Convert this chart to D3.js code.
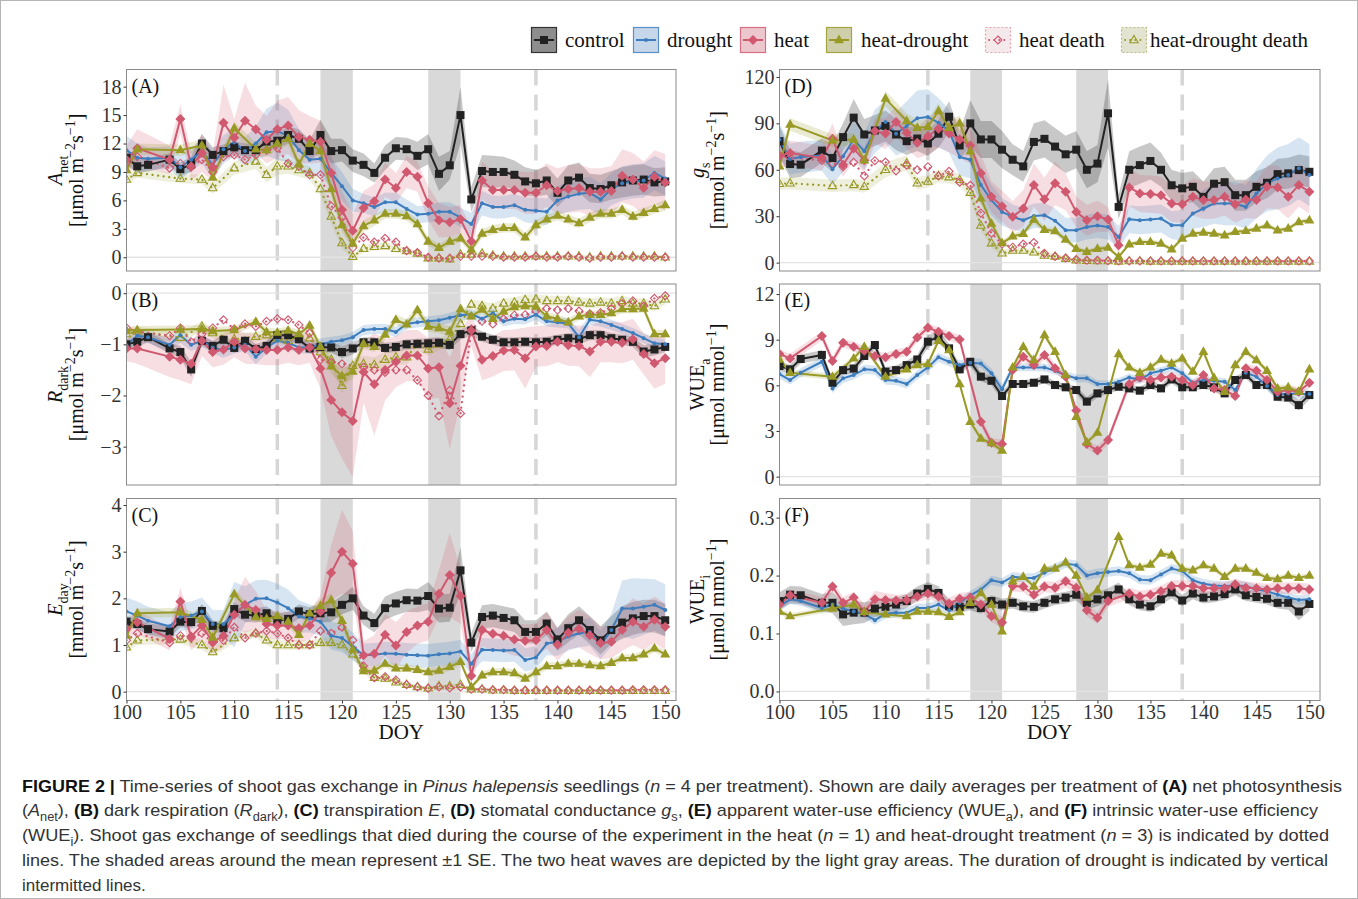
<!DOCTYPE html>
<html>
<head>
<meta charset="utf-8">
<script src="https://cdn.jsdelivr.net/npm/d3@7"></script>
<style>
  body { margin: 0; background: #fff; }
  svg text { font-family: "Liberation Serif", "Times New Roman", serif; }
  .caption text { font-family: "Liberation Sans", Arial, sans-serif; }
</style>
</head>
<body>
<svg id="chart" width="1358" height="899"></svg>
<script>
// days 100..150, null = no measurement that day
const days = d3.range(100, 151);
const heatWaves = [[118, 121], [128, 131]];
const droughtDays = [114, 138];

// ---- (A) net photosynthesis
const A_control = [10.5,9.6,9.75,null,10.3,9.3,9.8,12.0,10.8,11.2, 11.6,11.3,11.3,12.2,12.3,12.9,12.5,11.2,12.9,11.2, 11.3,10.2,9.75,8.9,10.5,11.5,11.4,10.7,11.4,8.8, 9.7,15.0,6.1,9.1,9.0,9.0,8.7,8.0,7.8,8.1, 6.8,8.1,8.4,7.3,7.2,7.6,7.9,8.1,8.2,7.9,8.0];
const A_control_se = [0.8,0.7,0.7,null,0.7,0.7,0.8,1.0,0.8,0.7, 0.7,0.7,0.7,0.8,0.8,0.9,1.0,1.2,1.6,1.3, 1.2,1.2,1.2,1.0,1.3,1.2,1.2,1.5,1.6,1.8, 1.5,3.0,1.3,1.7,1.7,1.6,1.5,1.5,1.4,1.5, 1.5,1.6,1.6,1.5,1.5,1.5,1.6,1.6,1.6,1.5,1.5];
const A_drought = [11.3,10.5,10.4,null,10.5,9.5,10.3,11.2,9.75,11.4, 12.1,11.2,12.0,13.2,13.3,12.8,11.3,10.3,10.4,8.9, 7.5,6.0,5.7,5.3,5.8,5.8,5.1,4.5,4.6,4.8, 4.8,4.2,3.5,5.7,5.3,5.3,5.5,5.0,4.9,4.8, 6.0,6.4,6.7,6.8,6.1,7.2,7.8,8.0,8.1,8.9,8.3];
const A_drought_se = [1.5,1.5,1.2,null,1.2,1.3,1.2,1.3,1.5,1.5, 1.5,1.5,1.8,2.5,3.0,2.8,2.2,1.8,1.8,1.6, 1.5,1.2,1.0,1.0,1.0,1.0,1.0,0.9,0.9,1.0, 1.0,1.0,1.2,1.3,1.2,1.2,1.2,1.3,1.4,1.4, 1.5,1.6,1.7,1.7,1.7,1.7,1.8,1.8,1.8,1.8,1.8];
const A_heat = [10.3,11.5,null,null,10.3,14.6,9.6,11.0,9.5,14.2, 12.6,14.4,13.5,12.4,13.5,13.9,12.7,12.4,12.2,8.9, 5.0,2.8,5.2,5.9,8.2,7.3,9.0,8.5,5.7,3.9, 3.7,4.0,1.7,8.1,7.1,7.1,7.1,6.8,6.8,7.6, 7.0,7.2,7.3,6.9,6.9,7.0,8.6,8.2,7.3,8.5,7.9];
const A_heat_se = [1.5,2.0,null,null,1.5,1.5,1.5,2.0,1.5,4.0, 2.0,4.0,2.5,2.5,3.0,3.0,2.8,2.5,2.2,2.0, 2.0,1.8,1.8,1.8,1.8,1.6,1.7,1.6,1.8,1.8, 1.6,1.5,1.4,2.0,2.0,2.0,2.0,2.2,2.2,2.3, 2.4,2.5,2.5,2.5,2.5,2.6,2.8,2.8,2.8,2.8,3.0];
const A_hd = [9.2,11.4,null,null,null,11.3,null,11.8,8.4,null, 13.6,null,11.4,11.3,12.0,12.5,9.8,12.0,11.2,7.2, 3.4,1.45,3.3,3.9,4.6,4.6,4.35,3.5,1.65,1.0, 1.65,2.0,0.8,2.5,2.9,3.1,3.1,2.1,3.4,4.0, 4.4,4.0,3.6,4.2,4.6,4.6,5.0,4.3,4.7,5.1,5.5];
const A_hd_se = [0.6,0.6,null,null,null,0.6,null,0.6,0.6,null, 0.7,null,0.7,0.7,0.7,0.7,0.6,0.7,0.8,0.8, 0.8,0.6,0.6,0.6,0.5,0.5,0.5,0.5,0.5,0.4, 0.4,0.4,0.4,0.5,0.5,0.5,0.5,0.5,0.5,0.5, 0.5,0.5,0.5,0.5,0.5,0.5,0.5,0.5,0.5,0.5,0.6];
const A_hdeath = [10.0,10.6,null,null,9.4,9.9,9.5,10.3,9.0,10.6, 10.8,10.3,10.8,11.3,11.5,9.9,9.6,8.7,8.7,5.4, 4.2,1.0,2.1,1.6,2.0,1.6,0.7,0.5,0.0,-0.1, -0.1,0.1,0.1,0.1,0.1,0.0,0.0,0.0,0.1,0.0, 0.0,0.1,0.0,-0.1,0.0,0.0,0.1,0.0,0.0,0.0,0.0];
const A_hdd = [8.2,8.9,null,null,null,8.3,null,8.2,7.3,null, 9.4,null,10.1,8.7,9.6,9.6,9.2,8.9,7.2,4.3, 1.5,0.05,0.9,1.1,1.2,0.9,0.65,0.4,-0.1,-0.1, -0.2,0.3,0.3,0.4,0.2,0.1,0.1,0.1,0.1,0.1, 0.1,0.1,0.1,0.0,0.1,0.1,0.1,0.1,0.1,0.1,0.0];
const A_hdd_se = [0.5,0.5,null,null,null,0.5,null,0.5,0.6,null, 0.7,null,0.8,0.8,0.9,0.8,0.7,0.7,0.7,0.8, 0.6,0.3,0.4,0.4,0.4,0.4,0.3,0.3,0.2,0.2, 0.2,0.2,0.2,0.2,0.2,0.2,0.2,0.2,0.2,0.2, 0.2,0.2,0.2,0.2,0.2,0.2,0.2,0.2,0.2,0.2,0.2];

// ---- (B) dark respiration
const B_control = [-1.0,-0.95,-0.86,null,-1.08,-1.15,-1.49,-0.93,-1.03,-0.91, -1.07,-0.93,-1.09,-1.03,-0.82,-0.82,-0.9,-1.08,-1.05,-1.06, -1.15,-1.08,-0.96,-0.96,-1.07,-1.05,-1.0,-0.99,-0.98,-0.97, -1.01,-0.8,-0.73,-0.85,-0.91,-0.96,-0.96,-0.95,-0.96,-0.95, -0.91,-0.88,-0.9,-0.82,-0.82,-0.88,-0.91,-0.95,-1.14,-1.1,-1.05];
const B_control_se = [0.1,0.1,0.1,null,0.1,0.12,0.15,0.1,0.1,0.1, 0.1,0.1,0.1,0.1,0.1,0.1,0.1,0.1,0.1,0.1, 0.12,0.12,0.1,0.1,0.1,0.1,0.1,0.1,0.1,0.1, 0.1,0.1,0.1,0.1,0.1,0.1,0.1,0.1,0.1,0.1, 0.1,0.1,0.1,0.1,0.1,0.1,0.1,0.1,0.12,0.12,0.1];
const B_drought = [-1.02,-0.83,-0.86,null,-1.01,-0.82,-1.01,-0.93,-1.06,-1.11, -1.06,-1.01,-1.24,-1.06,-0.93,-0.97,-1.06,-1.06,-1.0,-0.95, -0.92,-0.86,-0.72,-0.7,-0.7,-0.76,-0.6,-0.57,-0.55,-0.53, -0.48,-0.43,-0.41,-0.5,-0.39,-0.55,-0.5,-0.51,-0.42,-0.55, -0.57,-0.59,-0.86,-0.52,-0.55,-0.62,-0.7,-0.78,-0.88,-0.98,-1.0];
const B_drought_se = [0.12,0.12,0.12,null,0.12,0.15,0.12,0.12,0.12,0.15, 0.12,0.12,0.15,0.12,0.12,0.12,0.12,0.12,0.12,0.1, 0.1,0.1,0.1,0.1,0.1,0.1,0.1,0.1,0.1,0.1, 0.1,0.1,0.1,0.1,0.1,0.1,0.1,0.1,0.1,0.1, 0.1,0.1,0.15,0.1,0.1,0.1,0.1,0.1,0.1,0.1,0.1];
const B_heat = [-1.08,-1.08,null,null,-1.24,-1.3,-1.38,-0.93,-1.15,-1.1, -0.95,-1.08,-1.09,-1.11,-1.11,-1.06,-1.11,-1.06,-1.47,-2.09, -2.33,-2.5,-1.54,-1.78,-1.5,-1.34,-1.22,-1.22,-1.47,-1.45, -2.15,-1.42,-0.73,-1.3,-1.23,-1.12,-1.11,-1.27,-1.04,-1.03, -0.95,-1.02,-1.03,-1.14,-0.95,-0.95,-0.97,-0.9,-1.19,-1.37,-1.27];
const B_heat_se = [0.25,0.3,null,null,0.4,0.4,0.4,0.3,0.3,0.3, 0.3,0.3,0.3,0.3,0.3,0.3,0.3,0.3,0.4,0.7, 0.9,1.1,0.6,1.0,0.6,0.5,0.5,0.5,0.6,0.6, 0.9,0.7,0.3,0.4,0.4,0.4,0.4,0.6,0.4,0.4, 0.4,0.4,0.4,0.5,0.4,0.4,0.4,0.4,0.4,0.5,0.5];
const B_hd = [-0.73,-0.72,null,null,null,-0.71,null,-0.7,-0.74,null, -0.72,null,-0.56,-0.76,-0.77,-0.73,-0.8,-0.63,-1.05,-1.43, -1.62,-1.53,-0.99,-1.05,-0.81,-0.52,-0.61,-0.33,-0.65,-0.68, -0.75,-0.31,-0.45,-0.32,-0.5,-0.36,-0.27,-0.25,-0.26,-0.45, -0.5,-0.57,-0.45,-0.42,-0.42,-0.39,-0.31,-0.31,-0.3,-0.8,-0.8];
const B_hd_se = [0.08,0.08,null,null,null,0.08,null,0.08,0.08,null, 0.08,null,0.08,0.08,0.08,0.08,0.08,0.08,0.1,0.15, 0.15,0.15,0.1,0.1,0.1,0.1,0.1,0.1,0.1,0.1, 0.1,0.1,0.08,0.08,0.08,0.08,0.08,0.08,0.08,0.08, 0.08,0.08,0.08,0.08,0.08,0.08,0.08,0.08,0.08,0.08,0.08];
const B_hdeath = [-0.68,-0.75,null,null,-0.83,-0.68,-0.95,-0.8,-0.68,-0.52, -0.7,-0.6,-0.65,-0.55,-0.5,-0.52,-0.62,-0.78,-1.3,-1.35, -1.38,null,-1.45,-1.5,-1.55,-1.5,-1.5,-1.7,-2.0,-2.4, -1.9,-2.35,-0.7,-0.55,-0.6,-0.5,-0.43,-0.42,-0.35,-0.3, -0.33,-0.3,-0.35,-0.4,-0.38,-0.3,-0.2,-0.15,-0.25,-0.1,-0.05];
const B_hdd = [-0.8,-0.75,null,null,null,-0.87,null,-0.65,-0.78,null, -0.9,null,-0.85,-0.82,-0.88,-0.93,-0.82,-0.88,-1.15,-1.3, -1.81,-1.42,-1.38,-1.4,-1.3,-1.25,-1.25,-1.0,-1.1,-1.0, -0.9,-0.6,-0.22,-0.25,-0.3,-0.2,-0.18,-0.13,-0.12,-0.15, -0.15,-0.15,-0.18,-0.2,-0.18,-0.2,-0.15,-0.2,-0.2,-0.25,-0.12];
const B_hdd_se = [0.1,0.1,null,null,null,0.1,null,0.1,0.1,null, 0.1,null,0.1,0.1,0.1,0.1,0.1,0.1,0.12,0.15, 0.15,0.15,0.15,0.15,0.15,0.15,0.15,0.12,0.12,0.12, 0.12,0.12,0.1,0.1,0.1,0.1,0.1,0.1,0.1,0.1, 0.1,0.1,0.1,0.1,0.1,0.1,0.1,0.1,0.1,0.1,0.1];

// ---- (C) transpiration
const C_control = [1.5,1.45,1.34,null,1.29,1.5,1.49,1.73,1.41,1.36, 1.77,1.65,1.63,1.68,1.52,1.56,1.72,1.66,1.68,1.7, 1.86,2.0,1.63,1.47,1.79,1.89,1.96,1.95,2.05,1.78, 1.8,2.6,1.05,1.6,1.63,1.58,1.53,1.28,1.28,1.46, 1.12,1.36,1.53,1.32,1.1,1.32,1.48,1.57,1.62,1.62,1.53];
const C_control_se = [.12,.12,.12,null,.12,.12,.12,.15,.12,.12, .15,.15,.15,.15,.15,.15,.15,.15,.2,.2, .2,.25,.2,.2,.25,.25,.25,.25,.3,.3, .3,.5,.2,.25,.25,.25,.25,.25,.25,.25, .25,.3,.3,.3,.3,.3,.35,.35,.35,.35,.35];
const C_drought = [1.72,1.63,1.52,null,1.4,1.6,1.63,1.72,1.45,1.45, 1.65,1.86,1.99,2.0,1.91,1.79,1.61,1.57,1.5,1.2, 1.15,0.97,0.78,0.79,0.82,0.81,0.79,0.78,0.77,0.8, 0.82,0.86,0.6,0.9,0.89,0.88,0.89,0.68,0.73,1.03, 1.07,1.18,1.25,1.28,1.0,1.32,1.78,1.78,1.82,1.86,1.75];
const C_drought_se = [.3,.3,.3,null,.3,.3,.3,.3,.3,.3, .7,.4,.4,.4,.4,.4,.35,.3,.3,.3, .3,.3,.25,.25,.25,.25,.25,.25,.25,.25, .25,.25,.2,.25,.25,.25,.25,.25,.25,.25, .3,.3,.3,.3,.3,.35,.6,.65,.6,.55,.55];
const C_heat = [1.35,1.49,null,null,1.13,1.93,1.18,1.42,1.06,1.2, 1.65,1.86,1.75,1.45,1.42,1.42,1.36,1.42,1.72,2.55, 3.0,2.74,0.78,0.81,1.22,0.99,1.28,1.42,1.5,2.1, 2.5,2.05,0.34,1.32,1.24,1.2,1.12,1.09,1.1,1.32, 1.01,1.26,1.35,1.21,1.04,1.07,1.32,1.5,1.39,1.54,1.39];
const C_heat_se = [.2,.25,null,null,.25,.3,.3,.3,.25,.25, .3,.6,.4,.3,.3,.3,.3,.3,.35,.6, .9,.7,.3,.4,.45,.5,.45,.4,.4,.5, .9,.6,.2,.35,.35,.35,.35,.35,.35,.4, .35,.35,.4,.4,.35,.35,.45,.5,.5,.5,.5];
const C_hd = [1.2,1.68,null,null,null,1.7,null,1.54,1.16,null, 2.09,null,1.6,1.56,1.62,1.5,1.22,1.68,1.84,1.96, 1.52,0.9,0.44,0.45,0.6,0.5,0.5,0.47,0.42,0.45, 0.53,0.64,0.1,0.35,0.42,0.42,0.4,0.28,0.42,0.55, 0.55,0.6,0.6,0.57,0.55,0.62,0.72,0.72,0.8,0.93,0.8];
const C_hd_se = [.1,.1,null,null,null,.1,null,.1,.1,null, .12,null,.1,.1,.1,.1,.1,.1,.15,.15, .15,.12,.08,.08,.08,.08,.08,.08,.08,.08, .08,.08,.05,.08,.08,.08,.08,.08,.08,.08, .08,.08,.08,.08,.08,.08,.08,.08,.08,.08,.08];
const C_hdeath = [1.1,1.25,null,null,1.05,1.2,1.15,1.25,1.05,1.1, 1.38,1.15,1.25,1.3,1.25,1.15,1.0,1.0,1.3,1.25, 1.38,1.1,0.55,0.3,0.32,0.25,0.15,0.1,0.07,0.1, 0.08,0.1,0.05,0.05,0.04,0.04,0.03,0.03,0.03,0.03, 0.03,0.03,0.03,0.03,0.03,0.03,0.03,0.04,0.04,0.04,0.04];
const C_hdd = [0.95,1.1,null,null,null,1.12,null,1.0,0.85,null, 1.15,null,1.25,1.1,1.0,1.0,1.0,1.0,1.05,1.05, 1.0,0.8,0.5,0.3,0.28,0.2,0.15,0.1,0.07,0.12, 0.12,0.15,0.05,0.05,0.03,0.03,0.02,0.02,0.02,0.02, 0.02,0.02,0.02,0.02,0.02,0.02,0.02,0.02,0.02,0.02,0.02];
const C_hdd_se = [.1,.1,null,null,null,.1,null,.1,.1,null, .1,null,.1,.1,.1,.1,.1,.1,.1,.1, .1,.1,.1,.08,.08,.06,.05,.04,.04,.04, .04,.04,.03,.03,.03,.03,.03,.03,.03,.03, .03,.03,.03,.03,.03,.03,.03,.03,.03,.03,.03];

// ---- (D) stomatal conductance
const D_control = [78.5,63.7,63.3,null,72.4,67.6,81.1,93.7,82.8,85.4, 88.3,82.8,78.5,80.2,77.0,83.3,94.3,75.7,90.0,79.6, 79.6,73.0,66.5,62.2,78.0,80.0,75.0,70.0,73.0,60.0, 64.0,96.5,36.0,60.0,63.0,65.7,60.0,50.0,48.0,49.0, 42.5,51.0,52.0,43.6,43.6,49.0,51.6,57.2,57.7,59.8,58.7];
const D_control_se = [10,9,8,null,8,9,9,12,10,10, 10,10,9,8,8,9,10,9,15,12, 12,12,10,10,12,12,12,12,12,12, 12,22,8,12,12,12,11,10,10,10, 10,10,10,10,10,10,10,10,10,10,10];
const D_drought = [79.6,67.0,68.3,null,69.3,60.4,68.7,79.6,72.0,85.0, 90.9,83.3,88.3,93.3,94.1,90.4,85.0,68.3,66.5,50.2, 40.4,32.8,29.6,27.4,30.2,30.7,27.0,21.0,21.0,23.0, 24.0,23.0,16.6,28.0,27.4,27.9,28.5,24.2,24.2,31.7, 35.0,38.2,38.2,38.2,36.0,44.7,51.2,54.4,56.6,61.0,56.6];
const D_drought_se = [10,10,10,null,10,10,10,12,12,14, 14,14,16,18,18,16,14,12,12,12, 10,9,8,8,8,8,8,8,8,8, 8,8,7,9,9,9,9,9,10,10, 12,13,14,14,14,16,18,20,20,20,20];
const D_heat = [69.1,70.9,null,null,67.6,80.0,63.3,73.7,66.1,85.0, 83.5,90.9,83.9,77.4,81.7,86.5,83.5,79.6,75.7,57.8, 42.6,36.5,29.6,35.0,50.2,40.9,51.3,45.8,32.8,27.4, 30.0,27.9,11.2,48.6,44.7,44.3,43.6,38.2,37.8,42.5, 40.4,40.4,42.5,37.8,40.8,40.4,49.0,48.6,42.5,50.1,45.8];
const D_heat_se = [8,8,null,null,8,10,8,8,8,8, 10,10,10,10,12,12,12,12,12,12, 10,10,10,12,14,14,14,12,10,10, 10,8,6,12,12,12,12,12,12,12, 12,12,12,12,12,12,14,14,14,14,14];
const D_hd = [62.2,89.3,null,null,null,78.9,null,79.6,66.1,null, 106.0,null,91.5,87.2,87.8,98.0,87.2,90.0,72.0,41.5, 25.2,12.6,17.0,18.7,27.8,21.3,20.4,14.9,9.0,7.0, 9.0,9.7,3.7,11.9,13.4,13.4,12.3,8.6,15.6,18.8, 19.4,18.8,17.7,19.9,20.5,22.0,24.2,20.9,22.0,26.3,27.4];
const D_hd_se = [4,4,null,null,null,4,null,4,4,null, 5,null,5,5,5,5,5,5,5,4, 3,2,2,2,3,2,2,2,1.5,1.5, 1.5,1.5,1,1.5,1.5,1.5,1.5,1.5,1.5,1.5, 1.5,1.5,1.5,1.5,1.5,1.5,1.5,1.5,1.5,1.5,1.5];
const D_hdeath = [69,68,null,null,66,64,62,64.8,56,65.9, 65,59.3,63,60,62,56,59,52,50,32, 19,12,10,12,13,6,4,3,2,1.5, 1.5,1.2,1,1,1,1,1,1,1,1, 1,1,1,1,1,1,1,1,1,1,1];
const D_hdd = [50.9,51.3,null,null,null,49.6,null,50.2,49.1,null, 60.0,null,64.3,51.3,52.4,56.0,55.2,53.5,45.2,24.0, 12.6,6.0,7.8,7.8,6.7,4.6,4.0,2.5,1.5,1.2, 1.0,1.0,0.8,1.0,1.0,0.8,0.8,0.8,0.8,0.8, 0.8,0.8,0.8,0.8,0.8,0.8,0.8,0.8,0.8,0.8,0.8];
const D_hdd_se = [4,4,null,null,null,4,null,4,4,null, 5,null,5,4,4,4,4,4,4,3, 3,2,2,2,2,2,2,1.5,1,1, 1,1,1,1,1,1,1,1,1,1, 1,1,1,1,1,1,1,1,1,1,1];

// ---- (E) apparent water-use efficiency
const E_control = [7.27,7.05,7.73,null,8.0,6.17,7.0,7.1,7.93,8.65, 6.9,7.0,7.33,7.7,8.87,9.2,8.43,7.05,7.55,6.57, 6.3,5.3,6.09,6.09,6.17,6.39,6.02,5.87,5.69,4.93, 5.47,5.69,5.91,5.8,5.65,6.02,5.8,6.39,5.87,5.87, 6.02,5.87,5.47,6.35,6.68,6.02,6.02,5.25,5.2,4.7,5.36];
const E_control_se = [.3,.3,.3,null,.3,.3,.3,.3,.3,.3, .3,.3,.3,.3,.4,.4,.3,.3,.3,.3, .3,.3,.25,.25,.25,.25,.25,.25,.25,.3, .25,.25,.25,.25,.25,.25,.25,.25,.25,.25, .25,.25,.25,.25,.25,.25,.25,.3,.3,.35,.3];
const E_drought = [6.74,6.35,6.83,null,7.55,5.8,6.46,6.68,7.05,7.0, 6.35,6.3,6.09,6.68,7.18,7.84,7.55,7.33,7.49,7.44, 6.79,5.74,7.18,7.18,7.18,7.18,6.96,6.68,6.46,6.46, 6.09,6.09,6.24,6.52,6.35,6.79,6.96,7.18,6.79,6.17, 6.35,6.3,6.24,5.69,6.83,6.57,5.96,5.36,5.47,5.43,5.43];
const E_drought_se = [.3,.3,.3,null,.3,.3,.3,.3,.3,.3, .3,.3,.3,.3,.3,.3,.3,.3,.3,.3, .3,.3,.25,.25,.25,.25,.25,.25,.25,.25, .25,.25,.25,.25,.25,.25,.25,.25,.25,.25, .25,.25,.25,.25,.25,.25,.3,.3,.3,.3,.3];
const E_heat = [8.06,7.77,null,null,9.24,7.6,8.8,8.54,8.28,7.93, 7.84,8.06,8.21,9.15,9.79,9.52,9.24,9.02,null,3.61, 2.23,2.15,7.0,7.88,7.33,8.0,7.12,6.57,4.34,2.15, 1.71,2.41,null,6.09,6.52,6.35,6.52,6.57,6.35,6.02, 6.68,5.8,5.69,5.3,7.12,6.96,6.35,5.58,5.69,5.58,6.17];
const E_heat_se = [.3,.3,null,null,.3,.3,.3,.3,.3,.3, .3,.3,.3,.3,.3,.3,.3,.3,null,.3, .3,.3,.3,.3,.3,.3,.3,.3,.3,.3, .3,.3,null,.3,.3,.3,.3,.3,.3,.3, .3,.3,.3,.3,.3,.3,.3,.3,.3,.3,.3];
const E_hd = [7.7,6.83,null,null,null,6.57,null,7.77,8.54,null, 6.57,null,7.05,7.33,7.4,8.93,8.32,6.09,3.61,2.5, 2.2,1.71,7.18,8.54,7.66,9.3,8.2,6.68,3.94,2.26, 2.89,null,8.06,7.18,6.83,7.18,7.7,7.44,7.77,6.9, 8.21,6.5,5.58,7.33,8.21,7.66,6.96,5.8,5.87,5.58,7.05];
const E_hd_se = [.2,.2,null,null,null,.2,null,.2,.2,null, .2,null,.2,.2,.2,.2,.2,.2,.2,.2, .2,.2,.2,.2,.2,.2,.2,.2,.2,.2, .2,null,.2,.2,.2,.2,.2,.2,.2,.2, .2,.2,.2,.2,.2,.2,.2,.2,.2,.2,.2];

// ---- (F) intrinsic water-use efficiency
const F_control = [.156,.167,.166,null,.153,.153,.133,.136,.136,.143, .146,.15,.156,.169,.177,.17,.147,.146,.15,.144, .156,.15,.153,.147,.146,.153,.159,.162,.167,.153, .159,.166,.176,.159,.15,.147,.159,.171,.157,.169, .162,.164,.168,.176,.166,.163,.16,.153,.153,.138,.151];
const F_control_se = [.015,.015,.015,null,.015,.018,.02,.02,.018,.015, .015,.012,.012,.012,.012,.012,.01,.01,.01,.01, .01,.01,.01,.01,.01,.01,.01,.01,.01,.012, .012,.012,.012,.01,.01,.01,.01,.01,.01,.01, .01,.01,.01,.01,.01,.01,.01,.01,.012,.015,.012];
const F_drought = [.147,.159,.156,null,.144,.15,.143,.138,.134,.123, .134,.136,.136,.144,.144,.15,.14,.153,.166,.176, .192,.188,.198,.196,.196,.205,.213,.221,.218,.2, .204,.206,.208,.204,.193,.192,.202,.212,.208,.192, .186,.183,.182,.183,.182,.176,.173,.167,.162,.158,.159];
const F_drought_se = [.008,.008,.008,null,.008,.008,.008,.008,.008,.008, .008,.008,.008,.008,.008,.008,.008,.008,.008,.008, .008,.008,.008,.008,.008,.008,.008,.008,.008,.008, .008,.008,.008,.008,.008,.008,.008,.008,.008,.008, .008,.008,.008,.008,.008,.008,.008,.008,.008,.008,.008];
const F_heat = [.15,.166,null,null,.153,.181,.153,.162,.138,.159, .158,.157,.158,.164,.169,.164,.152,.16,.162,.15, .13,.119,.182,.181,.167,.181,.179,.19,.179,.14, .127,.156,null,.169,.164,.167,.173,.182,.182,.182, .178,.178,.178,.185,.179,.178,.176,.178,.178,.178,.176];
const F_heat_se = [.01,.01,null,null,.01,.01,.01,.01,.012,.015, .012,.01,.01,.01,.01,.01,.01,.01,.01,.01, .01,.01,.01,.01,.01,.01,.01,.01,.01,.01, .01,.01,null,.01,.01,.01,.01,.01,.01,.01, .01,.01,.01,.01,.01,.01,.01,.01,.01,.01,.01];
const F_hd = [.138,.13,null,null,null,.143,null,.15,.137,null, .133,null,.13,.138,.138,.137,.129,.137,.153,.17, .15,.104,.19,.198,.181,.212,.212,.223,.2,.162, .175,null,.267,.218,.214,.219,.238,.235,.212,.209, .218,.212,.198,.212,.212,.205,.196,.194,.2,.196,.2];
const F_hd_se = [.005,.005,null,null,null,.005,null,.005,.005,null, .005,null,.005,.005,.005,.005,.005,.005,.005,.005, .005,.005,.005,.005,.005,.005,.005,.005,.005,.005, .005,null,.005,.005,.005,.005,.005,.005,.005,.005, .005,.005,.005,.005,.005,.005,.005,.005,.005,.005,.005];

// ---- legend entries
const legendKeys = ['control', 'drought', 'heat', 'hd', 'hdeath', 'hdd'];
const legendLabels = ['control', 'drought', 'heat', 'heat-drought', 'heat death', 'heat-drought death'];

const style = {
  control: {color: '#222222', band: '#1a1a1a', bop: 0.24, shape: 'square', key: '#8e8e8e', keyStroke: '#333'},
  drought: {color: '#3d7dbd', band: '#4a87c6', bop: 0.22, shape: 'dot', key: '#c7d7ea', keyStroke: '#5a8fc8'},
  heat:    {color: '#d0586f', band: '#d0586f', bop: 0.2, shape: 'diamond', key: '#edc7ce', keyStroke: '#d87084'},
  hd:      {color: '#999a26', band: '#999a26', bop: 0.2, shape: 'triangle', key: '#cfd0ab', keyStroke: '#a4a53f'},
  hdeath:  {color: '#d0586f', shape: 'odiamond', dotted: true, key: '#f4eaec', keyStroke: '#e0a0ac'},
  hdd:     {color: '#999a26', band: '#b0b15a', bop: 0.2, shape: 'otriangle', dotted: true, key: '#e2e3d0', keyStroke: '#b8b97a'}
};

const umol = [['[μmol m'], ['−2', 'sup'], ['s'], ['−1', 'sup'], [']']];
const mmol = [['[mmol m'], ['−2', 'sup'], ['s'], ['−1', 'sup'], [']']];
const umolmmol = [['[μmol mmol'], ['−1', 'sup'], [']']];

const cols = [{x0: 126.5, x1: 676}, {x0: 779.5, x1: 1320}];
const rowsPos = [{y0: 69.5, y1: 271}, {y0: 284, y1: 485}, {y0: 498.5, y1: 700.5}];

const panels = [
  {id: 'A', col: 0, row: 0, dom: [-1.45, 19.81], ticks: [0, 3, 6, 9, 12, 15, 18], fmt: d3.format('d'),
   t1: [['A', 'i'], ['net', 'sub']], t2: umol,
   series: [['hdd', A_hdd, A_hdd_se], ['hdeath', A_hdeath, null], ['control', A_control, A_control_se], ['drought', A_drought, A_drought_se], ['heat', A_heat, A_heat_se], ['hd', A_hd, A_hd_se]]},
  {id: 'B', col: 0, row: 1, dom: [-3.75, 0.18], ticks: [-3, -2, -1, 0], fmt: d3.format('d'),
   t1: [['R', 'i'], ['dark', 'sub']], t2: umol,
   series: [['hdd', B_hdd, B_hdd_se], ['hdeath', B_hdeath, null], ['control', B_control, B_control_se], ['drought', B_drought, B_drought_se], ['heat', B_heat, B_heat_se], ['hd', B_hd, B_hd_se]]},
  {id: 'C', col: 0, row: 2, dom: [-0.19, 4.14], ticks: [0, 1, 2, 3, 4], fmt: d3.format('d'),
   t1: [['E', 'i'], ['day', 'sub']], t2: mmol,
   series: [['hdd', C_hdd, C_hdd_se], ['hdeath', C_hdeath, null], ['control', C_control, C_control_se], ['drought', C_drought, C_drought_se], ['heat', C_heat, C_heat_se], ['hd', C_hd, C_hd_se]]},
  {id: 'D', col: 1, row: 0, dom: [-5.4, 124.8], ticks: [0, 30, 60, 90, 120], fmt: d3.format('d'),
   t1: [['g', 'i'], ['s', 'sub']], t2: mmol,
   series: [['hdd', D_hdd, D_hdd_se], ['hdeath', D_hdeath, null], ['control', D_control, D_control_se], ['drought', D_drought, D_drought_se], ['heat', D_heat, D_heat_se], ['hd', D_hd, D_hd_se]]},
  {id: 'E', col: 1, row: 1, dom: [-0.55, 12.66], ticks: [0, 3, 6, 9, 12], fmt: d3.format('d'),
   t1: [['WUE'], ['a', 'sub']], t2: umolmmol,
   series: [['control', E_control, E_control_se], ['drought', E_drought, E_drought_se], ['heat', E_heat, E_heat_se], ['hd', E_hd, E_hd_se]]},
  {id: 'F', col: 1, row: 2, dom: [-0.0156, 0.333], ticks: [0, 0.1, 0.2, 0.3], fmt: d3.format('.1f'),
   t1: [['WUE'], ['i', 'sub']], t2: umolmmol,
   series: [['control', F_control, F_control_se], ['drought', F_drought, F_drought_se], ['heat', F_heat, F_heat_se], ['hd', F_hd, F_hd_se]]}
];

const svg = d3.select('#chart');
svg.append('rect').attr('width', 1358).attr('height', 899).attr('fill', '#fff');

function drawMarker(sel, shape, color) {
  if (shape === 'square') {
    sel.append('rect').attr('x', -4).attr('y', -4).attr('width', 8).attr('height', 8).attr('fill', color);
  } else if (shape === 'dot') {
    sel.append('circle').attr('r', 2).attr('fill', color);
  } else if (shape === 'diamond') {
    sel.append('path').attr('d', 'M0,-5L5,0L0,5L-5,0Z').attr('fill', color);
  } else if (shape === 'triangle') {
    sel.append('path').attr('d', 'M0,-5.5L5,3.2L-5,3.2Z').attr('fill', color);
  } else if (shape === 'odiamond') {
    sel.append('path').attr('d', 'M0,-4L4,0L0,4L-4,0Z').attr('fill', 'none').attr('stroke', color).attr('stroke-width', 1.1);
  } else if (shape === 'otriangle') {
    sel.append('path').attr('d', 'M0,-4.6L4.2,2.7L-4.2,2.7Z').attr('fill', 'none').attr('stroke', color).attr('stroke-width', 1.1);
  }
}

// text made of runs; sub/superscripts shifted with dy so they also work when rotated
function richText(parent, segs, size) {
  const t = parent.append('text');
  let shift = 0;
  segs.forEach(([s, f]) => {
    const ts = t.append('tspan').text(s);
    const target = f === 'sub' ? size * 0.28 : f === 'sup' ? -size * 0.38 : 0;
    if (target !== shift) { ts.attr('dy', target - shift); shift = target; }
    if (f === 'b') ts.attr('font-weight', 'bold');
    if (f === 'i') ts.attr('font-style', 'italic');
    if (f === 'sub' || f === 'sup') ts.attr('font-size', Math.round(size * 0.7) + 'px');
  });
  return t;
}

panels.forEach(p => {
  const c = cols[p.col], r = rowsPos[p.row];
  const x = d3.scaleLinear().domain([100, 151]).range([c.x0, c.x1]);
  const y = d3.scaleLinear().domain(p.dom).range([r.y1, r.y0]);

  svg.append('clipPath').attr('id', 'clip' + p.id)
    .append('rect').attr('x', c.x0).attr('y', r.y0).attr('width', c.x1 - c.x0).attr('height', r.y1 - r.y0);
  const g = svg.append('g').attr('clip-path', `url(#clip${p.id})`);

  heatWaves.forEach(([a, b]) => {
    g.append('rect').attr('x', x(a)).attr('width', x(b) - x(a))
      .attr('y', r.y0).attr('height', r.y1 - r.y0).attr('fill', '#d9d9d9');
  });
  droughtDays.forEach(d => {
    g.append('line').attr('x1', x(d)).attr('x2', x(d)).attr('y1', r.y0).attr('y2', r.y1)
      .attr('stroke', '#d6d6d6').attr('stroke-width', 3.5).attr('stroke-dasharray', '16,9');
  });
  g.append('line').attr('x1', c.x0).attr('x2', c.x1).attr('y1', y(0)).attr('y2', y(0))
    .attr('stroke', '#e3e3e3').attr('stroke-width', 1.3);

  const sets = p.series.map(([k, v, se]) => ({
    k,
    pts: days.map((d, i) => ({d, v: v[i], se: se ? se[i] : null})).filter(q => q.v !== null)
  }));

  // SE ribbons
  sets.forEach(s => {
    const st = style[s.k];
    if (!st.band || !s.pts.length || s.pts[0].se === null) return;
    const area = d3.area().x(q => x(q.d)).y0(q => y(q.v - q.se)).y1(q => y(q.v + q.se));
    g.append('path').datum(s.pts).attr('d', area).attr('fill', st.band).attr('fill-opacity', st.bop);
  });

  // lines
  sets.forEach(s => {
    const st = style[s.k];
    const line = d3.line().x(q => x(q.d)).y(q => y(q.v));
    const path = g.append('path').datum(s.pts).attr('d', line).attr('fill', 'none').attr('stroke', st.color);
    if (st.dotted) path.attr('stroke-width', 2.2).attr('stroke-dasharray', '0.1,5.5').attr('stroke-linecap', 'round');
    else path.attr('stroke-width', 2).attr('stroke-linejoin', 'round');
  });

  // markers
  sets.forEach(s => {
    const st = style[s.k];
    g.append('g').selectAll('g').data(s.pts).join('g')
      .attr('transform', q => `translate(${x(q.d)},${y(q.v)})`)
      .each(function () { drawMarker(d3.select(this), st.shape, st.color); });
  });

  // panel border
  svg.append('rect').attr('x', c.x0).attr('y', r.y0).attr('width', c.x1 - c.x0).attr('height', r.y1 - r.y0)
    .attr('fill', 'none').attr('stroke', '#8a8a8a').attr('stroke-width', 1);

  // y axis
  const ya = svg.append('g').attr('transform', `translate(${c.x0},0)`)
    .call(d3.axisLeft(y).tickValues(p.ticks).tickFormat(p.fmt).tickSize(3).tickPadding(2));
  ya.select('.domain').remove();
  ya.selectAll('.tick line').attr('stroke', '#333');
  ya.selectAll('.tick text').attr('fill', '#333').attr('font-size', '20px')
    .attr('font-family', '"Liberation Serif", serif');

  // x axis on bottom row only
  if (p.row === 2) {
    const xa = svg.append('g').attr('transform', `translate(0,${r.y1})`)
      .call(d3.axisBottom(x).tickValues(d3.range(100, 151, 5)).tickSize(3).tickPadding(1));
    xa.select('.domain').remove();
    xa.selectAll('.tick line').attr('stroke', '#333');
    xa.selectAll('.tick text').attr('fill', '#333').attr('font-size', '20px')
      .attr('font-family', '"Liberation Serif", serif');
    svg.append('text').attr('x', (c.x0 + c.x1) / 2).attr('y', 739).attr('text-anchor', 'middle')
      .attr('font-size', '21px').attr('fill', '#111').text('DOY');
  }

  // panel tag
  svg.append('text').attr('x', c.x0 + 5).attr('y', r.y0 + 23).attr('font-size', '20px').attr('fill', '#111')
    .text(`(${p.id})`);

  // y title (two lines)
  const cy = (r.y0 + r.y1) / 2;
  const tx1 = p.col === 0 ? 55 : 697, tx2 = p.col === 0 ? 76 : 717;
  richText(svg, p.t1, 20).attr('transform', `translate(${tx1 + 7},${cy}) rotate(-90)`)
    .attr('text-anchor', 'middle').attr('font-size', '20px').attr('fill', '#111');
  richText(svg, p.t2, 20).attr('transform', `translate(${tx2 + 7},${cy}) rotate(-90)`)
    .attr('text-anchor', 'middle').attr('font-size', '20px').attr('fill', '#111');
});

// legend
const legendBox = [531, 633, 740, 826, 985, 1121];
const legendText = [565, 667, 774, 861, 1019, 1150];
legendKeys.forEach((k, i) => {
  const st = style[k];
  const lg = svg.append('g').attr('transform', `translate(${legendBox[i]},27)`);
  const box = lg.append('rect').attr('x', 0.5).attr('y', 0.5).attr('width', 25).attr('height', 25)
    .attr('fill', st.key).attr('stroke', st.keyStroke).attr('stroke-width', 1.2);
  if (st.dotted) box.attr('stroke-dasharray', '2,2');
  const ln = lg.append('line').attr('x1', 3).attr('x2', 23).attr('y1', 13).attr('y2', 13).attr('stroke', st.color);
  if (st.dotted) ln.attr('stroke-width', 2).attr('stroke-dasharray', '0.1,5').attr('stroke-linecap', 'round').attr('x1', 4);
  else ln.attr('stroke-width', 2);
  const mg = lg.append('g').attr('transform', 'translate(13,13)');
  drawMarker(mg, st.shape, st.color);
  svg.append('text').attr('x', legendText[i]).attr('y', 47).attr('font-size', '21px').attr('fill', '#111')
    .text(legendLabels[i]);
});

// caption
const cap = svg.append('g').attr('class', 'caption').attr('fill', '#333');
const capLines = [
  {y: 792, len: 1320, segs: [['FIGURE 2 |', 'b'], [' Time-series of shoot gas exchange in '], ['Pinus halepensis', 'i'], [' seedlings ('], ['n', 'i'], [' = 4 per treatment). Shown are daily averages per treatment of '], ['(A)', 'b'], [' net photosynthesis']]},
  {y: 816, len: 1296, segs: [['('], ['A', 'i'], ['net', 'sub'], ['), '], ['(B)', 'b'], [' dark respiration ('], ['R', 'i'], ['dark', 'sub'], ['), '], ['(C)', 'b'], [' transpiration '], ['E', 'i'], [', '], ['(D)', 'b'], [' stomatal conductance '], ['g', 'i'], ['s', 'sub'], [', '], ['(E)', 'b'], [' apparent water-use efficiency (WUE'], ['a', 'sub'], ['), and '], ['(F)', 'b'], [' intrinsic water-use efficiency']]},
  {y: 841, len: 1307, segs: [['(WUE'], ['i', 'sub'], ['). Shoot gas exchange of seedlings that died during the course of the experiment in the heat ('], ['n', 'i'], [' = 1) and heat-drought treatment ('], ['n', 'i'], [' = 3) is indicated by dotted']]},
  {y: 866, len: 1306, segs: [['lines. The shaded areas around the mean represent ±1 SE. The two heat waves are depicted by the light gray areas. The duration of drought is indicated by vertical']]},
  {y: 891, len: null, segs: [['intermitted lines.']]}
];
capLines.forEach(l => {
  const t = richText(cap, l.segs, 17).attr('x', 22).attr('y', l.y).attr('font-size', '17px');
  t.selectAll('tspan').filter(function () { return d3.select(this).attr('font-weight') === 'bold'; }).attr('fill', '#111');
  if (l.len) t.attr('textLength', l.len).attr('lengthAdjust', 'spacingAndGlyphs');
});

// outer frame
svg.append('rect').attr('x', 0.5).attr('y', 0.5).attr('width', 1357).attr('height', 898)
  .attr('fill', 'none').attr('stroke', '#b5b5b5').attr('stroke-width', 1);
</script>
</body>
</html>
